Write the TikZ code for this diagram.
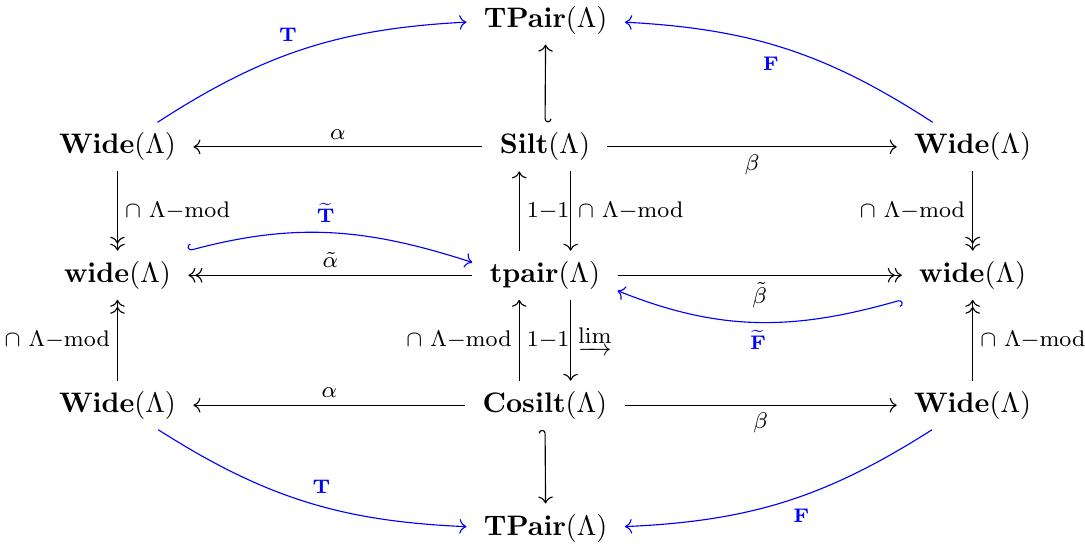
\documentclass[tikz,border=0pt]{standalone}
\usepackage{amsmath}
\usetikzlibrary{arrows.meta}
\begin{document}
\begin{tikzpicture}[>={Computer Modern Rightarrow}]
	\tikzstyle{every node}=[inner xsep=6pt, inner ysep=3.5pt]
	\tikzstyle{lab}=[font=\footnotesize, inner sep=2.5pt]
	\tikzstyle{blab}=[font=\scriptsize, inner sep=2.5pt]
	
	\useasboundingbox (0,0) rectangle (13.52,6.88);
	
	\node (TPtop) at (6.80,6.63) {$\mathbf{TPair}(\Lambda)$};
	\node (WideTL) at (1.464,5.05) {$\mathbf{Wide}(\Lambda)$};
	\node (Silt) at (6.79,5.05) {$\mathbf{Silt}(\Lambda)$};
	\node (WideTR) at (12.12,5.05) {$\mathbf{Wide}(\Lambda)$};
	\node (wideL) at (1.464,3.45) {$\mathbf{wide}(\Lambda)$};
	\node (tpair) at (6.79,3.45) {$\mathbf{tpair}(\Lambda)$};
	\node (wideR) at (12.12,3.45) {$\mathbf{wide}(\Lambda)$};
	\node (WideBL) at (1.464,1.83) {$\mathbf{Wide}(\Lambda)$};
	\node (Cosilt) at (6.79,1.83) {$\mathbf{Cosilt}(\Lambda)$};
	\node (WideBR) at (12.12,1.83) {$\mathbf{Wide}(\Lambda)$};
	\node (TPbot) at (6.80,0.30) {$\mathbf{TPair}(\Lambda)$};
	
	\draw[->] (Silt) -- node[lab, auto, swap] {$\alpha$} (WideTL);
	\draw[->] (Silt) -- node[lab, auto, swap] {$\beta$} (WideTR);
	\draw[->>] (tpair) -- node[lab, auto, swap] {$\tilde{\alpha}$} (wideL);
	\draw[->>] (tpair) -- node[lab, auto, swap] {$\tilde{\beta}$} (wideR);
	\draw[->] (Cosilt) -- node[lab, auto, swap] {$\alpha$} (WideBL);
	\draw[->] (Cosilt) -- node[lab, auto, swap] {$\beta$} (WideBR);
	
	\draw[->>] (WideTL) -- node[lab, auto] {$\cap\ \Lambda{-}\mathrm{mod}$} (wideL);
	\draw[->>] (WideBL) -- node[lab, auto] {$\cap\ \Lambda{-}\mathrm{mod}$} (wideL);
	\draw[->>] (WideTR) -- node[lab, auto, swap] {$\cap\ \Lambda{-}\mathrm{mod}$} (wideR);
	\draw[->>] (WideBR) -- node[lab, auto, swap] {$\cap\ \Lambda{-}\mathrm{mod}$} (wideR);
	
	\draw[->] ([xshift=-0.32cm]tpair.north) -- node[lab, auto, swap] {$1{-}1$} ([xshift=-0.32cm]Silt.south);
	\draw[->] ([xshift=0.32cm]Silt.south) -- node[lab, auto] {$\cap\ \Lambda{-}\mathrm{mod}$} ([xshift=0.32cm]tpair.north);
	\draw[->] ([xshift=-0.32cm]Cosilt.north) -- node[lab, auto] {$\cap\ \Lambda{-}\mathrm{mod}$} node[lab, auto, swap] {$1{-}1$} ([xshift=-0.32cm]tpair.south);
	\draw[->] ([xshift=0.32cm]tpair.south) -- node[lab, auto] {$\varinjlim$} ([xshift=0.32cm]Cosilt.north);
	
	\draw[{Hooks[left]}->] (Silt) -- (TPtop);
	\draw[{Hooks[left]}->] (Cosilt) -- (TPbot);
	
	\draw[blue, ->] (WideTL) to[bend left=15] node[blab, auto] {$\mathbf{T}$} (TPtop);
	\draw[blue, ->] (WideTR) to[bend right=15] node[blab, auto] {$\mathbf{F}$} (TPtop);
	\draw[blue, ->] (WideBL) to[bend right=15] node[blab, auto] {$\mathbf{T}$} (TPbot);
	\draw[blue, ->] (WideBR) to[bend left=15] node[blab, auto] {$\mathbf{F}$} (TPbot);
	
	\draw[blue, {Hooks[right]}->] (wideL.north east) to[out=15, in=162] node[blab, auto, pos=0.48, inner sep=3.5pt] {$\widetilde{\mathbf{T}}$} (tpair.170);
	\draw[blue, {Hooks[right]}->] (wideR.south west) to[out=196, in=-22] node[blab, auto] {$\widetilde{\mathbf{F}}$} (tpair.-12);
	
\end{tikzpicture}
\end{document}
